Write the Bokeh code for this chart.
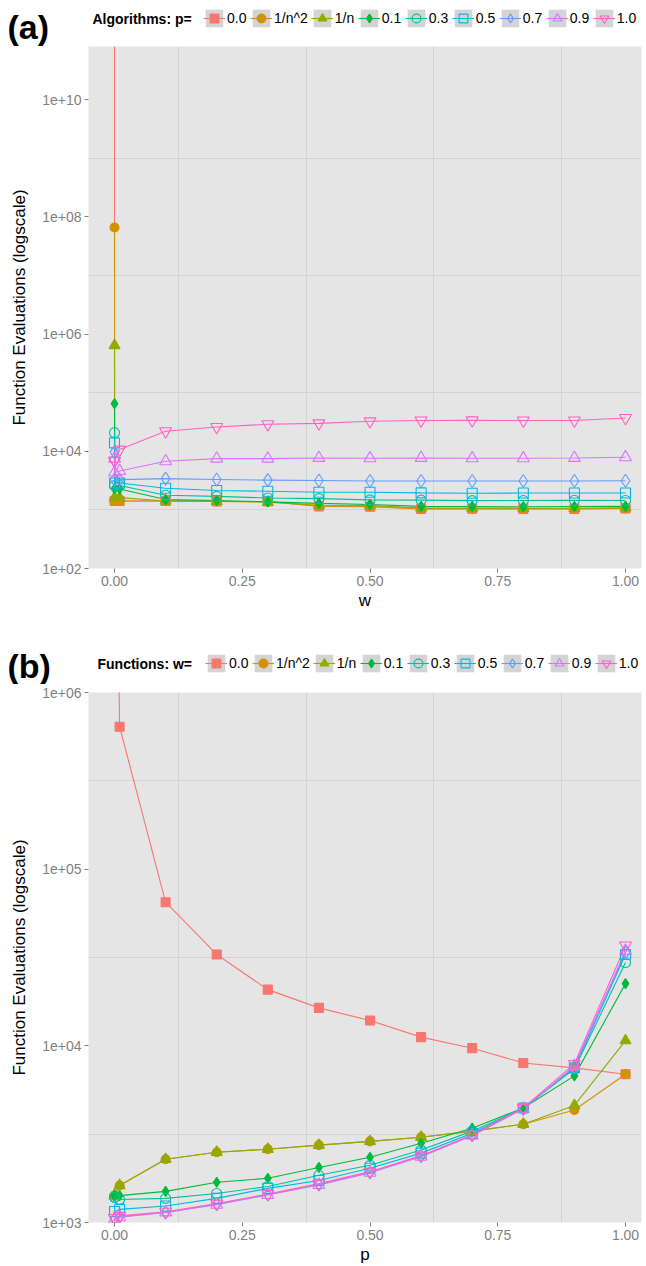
from bokeh.plotting import figure
from bokeh.models import (Range1d, FixedTicker, CustomJSTickFormatter, PrintfTickFormatter,
                          Legend, LegendItem, Label, ColumnDataSource)
from bokeh.layouts import column
from bokeh.embed import file_html
from bokeh.resources import INLINE

FONT = "Liberation Sans"

# ---------------- data ----------------
x_vals = [0.0, 0.0001, 0.01, 0.1, 0.2, 0.3, 0.4, 0.5, 0.6, 0.7, 0.8, 0.9, 1.0]
series_labels = ["0.0", "1/n^2", "1/n", "0.1", "0.3", "0.5", "0.7", "0.9", "1.0"]

# panel (a): algorithms p, x = w
a_p00 = [1e12, 1420, 1420, 1420, 1400, 1390, 1150, 1130, 1040, 1050, 1040, 1040, 1060]
a_p1n2 = [6.6e7, 1420, 1420, 1420, 1400, 1390, 1160, 1140, 1050, 1050, 1050, 1050, 1060]
a_p1n = [6.4e5, 1620, 1620, 1420, 1400, 1350, 1200, 1190, 1080, 1080, 1070, 1070, 1090]
a_p01 = [6.5e4, 2280, 2280, 1500, 1450, 1370, 1290, 1240, 1150, 1140, 1130, 1140, 1150]
a_p03 = [2.08e4, 2600, 2600, 1780, 1700, 1600, 1560, 1480, 1470, 1440, 1450, 1460, 1450]
a_p05 = [1.39e4, 2880, 2880, 2340, 2140, 2080, 2000, 2000, 1950, 1920, 1940, 1940, 1940]
a_p07 = [9.7e3, 3290, 3290, 3420, 3300, 3220, 3170, 3120, 3120, 3120, 3110, 3120, 3140]
a_p09 = [7.5e3, 4330, 4600, 6760, 7500, 7500, 7700, 7600, 7700, 7600, 7600, 7700, 7900]
a_p10 = [6.9e3, 6.9e3, 1.07e4, 2.2e4, 2.6e4, 2.9e4, 3.0e4, 3.25e4, 3.35e4, 3.37e4, 3.35e4, 3.35e4, 3.7e4]

# panel (b): functions w, x = p
b_w00 = [1e12, 6.6e7, 6.4e5, 6.5e4, 3.29e4, 2.08e4, 1.64e4, 1.39e4, 1.12e4, 9.7e3, 8.0e3, 7.5e3, 6.9e3]
b_w1n2 = [1420, 1420, 1620, 2280, 2500, 2600, 2740, 2880, 3040, 3290, 3600, 4330, 6900]
b_w1n = [1420, 1420, 1620, 2280, 2500, 2600, 2740, 2880, 3040, 3290, 3600, 4600, 10700]
b_w01 = [1420, 1420, 1420, 1500, 1690, 1780, 2050, 2340, 2810, 3420, 4450, 6760, 22500]
b_w03 = [1390, 1390, 1350, 1370, 1460, 1600, 1850, 2110, 2570, 3290, 4450, 7400, 29600]
b_w05 = [1155, 1155, 1186, 1240, 1370, 1560, 1730, 2030, 2470, 3200, 4450, 7500, 32900]
b_w07 = [1050, 1050, 1080, 1140, 1270, 1440, 1640, 1920, 2370, 3120, 4400, 7600, 33700]
b_w09 = [1040, 1040, 1070, 1140, 1260, 1430, 1630, 1910, 2360, 3100, 4400, 7700, 34500]
b_w10 = [1060, 1060, 1090, 1150, 1280, 1450, 1660, 1940, 2390, 3140, 4450, 7900, 37000]

x_ticks = [0.0, 0.25, 0.5, 0.75, 1.0]
x_minor = [0.125, 0.375, 0.625, 0.875]
a_y_ticks = [1e2, 1e4, 1e6, 1e8, 1e10]
a_y_minor = [1e3, 1e5, 1e7, 1e9, 1e11]
b_y_ticks = [1e3, 1e4, 1e5, 1e6]
b_y_minor = [10 ** 3.5, 10 ** 4.5, 10 ** 5.5]

# ---------------- styles ----------------
COLORS = ["#F8766D", "#D39200", "#93AA00", "#00BA38", "#00C19F",
          "#00B9E3", "#619CFF", "#DB72FB", "#FF61C3"]
MARKERS = ["square", "circle", "triangle", "diamond", "circle",
           "square", "diamond", "triangle", "inverted_triangle"]
FILLED = [True, True, True, True, False, False, False, False, False]
SIZES = [9, 9, 11, 10, 10, 10, 13, 12, 12]
W = 646
X_RANGE = (-0.0509, 1.0313)


def add_series(p, series):
    srcs = [ColumnDataSource(dict(x=x_vals, y=ys)) for ys in series]
    bgs = [p.rect("x", "y", width=0, height=0, source=s, fill_color="#D4D4D4",
                  line_color=None) for s in srcs]
    lns = [p.line("x", "y", source=s, line_color=c, line_width=1.1)
           for s, c in zip(srcs, COLORS)]
    scs = []
    for i, s in enumerate(srcs):
        c = COLORS[i]
        scs.append(p.scatter("x", "y", source=s, marker=MARKERS[i], size=SIZES[i],
                             line_color=c, fill_color=c if FILLED[i] else None,
                             line_width=1.1))
    return bgs, lns, scs


def make_header(series, height, legend_title, tag, tag_y, title_x, leg_x, leg_vy):
    h = figure(width=W, height=height, title=None, x_range=Range1d(0, 1),
               y_range=Range1d(-2, -1), output_backend="svg", toolbar_location=None,
               x_axis_location=None, y_axis_location=None,
               min_border_left=0, min_border_right=0, min_border_top=0, min_border_bottom=0)
    if "frame_align" in h.properties():
        h.frame_align = False
    h.grid.visible = False
    h.outline_line_color = None
    h.background_fill_color = "white"
    h.border_fill_color = "white"
    bgs, lns, scs = add_series(h, series)
    items = [LegendItem(label=series_labels[i], renderers=[bgs[i], lns[i], scs[i]])
             for i in range(len(series))]
    legend = Legend(items=items, orientation="horizontal", location=(leg_x, leg_vy),
                    glyph_width=22, glyph_height=22, label_standoff=2, spacing=3,
                    padding=0, margin=0, background_fill_alpha=0, border_line_color=None,
                    label_text_font=FONT, label_text_font_size="14px",
                    label_text_color="black", label_height=22)
    h.add_layout(legend)
    h.add_layout(Label(x=title_x, y=leg_vy + 11, x_units="screen", y_units="screen",
                       text=legend_title, text_font=FONT, text_font_size="14px",
                       text_font_style="bold", text_baseline="middle", text_color="black"))
    h.add_layout(Label(x=7, y=tag_y, x_units="screen", y_units="screen",
                       text=tag, text_font=FONT, text_font_size="34px",
                       text_font_style="bold", text_baseline="middle", text_color="black"))
    return h


def make_panel(series, y_lo, y_hi, y_ticks, y_minor, xlabel, height, b_top, b_bottom):
    p = figure(width=W, height=height, title=None,
               x_range=Range1d(*X_RANGE), y_range=Range1d(y_lo, y_hi),
               y_axis_type="log", output_backend="svg", toolbar_location=None,
               min_border_left=88, min_border_right=5,
               min_border_top=b_top, min_border_bottom=b_bottom)
    p.background_fill_color = "#E5E5E5"
    p.border_fill_color = "white"
    p.outline_line_color = None

    p.xaxis.ticker = FixedTicker(ticks=x_ticks)
    p.xaxis.formatter = PrintfTickFormatter(format="%.2f")
    p.yaxis.ticker = FixedTicker(ticks=y_ticks)
    p.yaxis.formatter = CustomJSTickFormatter(
        code="const e = Math.round(Math.log10(tick)); return '1e+' + (e < 10 ? '0' + e : '' + e);")
    for ax in (p.xaxis[0], p.yaxis[0]):
        ax.axis_line_color = None
        ax.major_tick_line_color = "#7F7F7F"
        ax.major_tick_out = 4
        ax.major_tick_in = 0
        ax.minor_tick_line_color = None
        ax.major_label_text_color = "#7F7F7F"
        ax.major_label_text_font = FONT
        ax.major_label_text_font_size = "14px"
        ax.major_label_standoff = 3
        ax.axis_label_text_font = FONT
        ax.axis_label_text_font_size = "17px"
        ax.axis_label_text_font_style = "normal"
        ax.axis_label_text_color = "black"
    p.xaxis.axis_label = xlabel
    p.xaxis.axis_label_standoff = 2
    p.yaxis.axis_label = "Function Evaluations (logscale)"
    p.yaxis.axis_label_standoff = 10

    p.xgrid.ticker = FixedTicker(ticks=x_minor)
    p.ygrid.ticker = FixedTicker(ticks=y_minor)
    p.grid.grid_line_color = "#D3D3D3"
    p.grid.grid_line_width = 1

    add_series(p, series)
    return p


series_a = [a_p00, a_p1n2, a_p1n, a_p01, a_p03, a_p05, a_p07, a_p09, a_p10]
series_b = [b_w00, b_w1n2, b_w1n, b_w01, b_w03, b_w05, b_w07, b_w09, b_w10]

# header (a) spans page y 0..46, its frame is the whole header
ha = make_header(series_a, 46, "Algorithms: p=", "(a)", 20, 92, 203, 17)
# panel (a): frame 46..568 keeps 1e+02 at the bottom and 58.6 px per decade
pa = make_panel(series_a, 1e2, 10 ** 10.908, a_y_ticks, a_y_minor, "w", 579, 0, 57)
hb = make_header(series_b, 59, "Functions: w=", "(b)", 19, 97, 205, 10)
pb = make_panel(series_b, 1e3, 1e6, b_y_ticks, b_y_minor, "p", 582, 8, 44)

layout = column(ha, pa, hb, pb, spacing=0)
open("out.html", "w").write(file_html(layout, INLINE))
